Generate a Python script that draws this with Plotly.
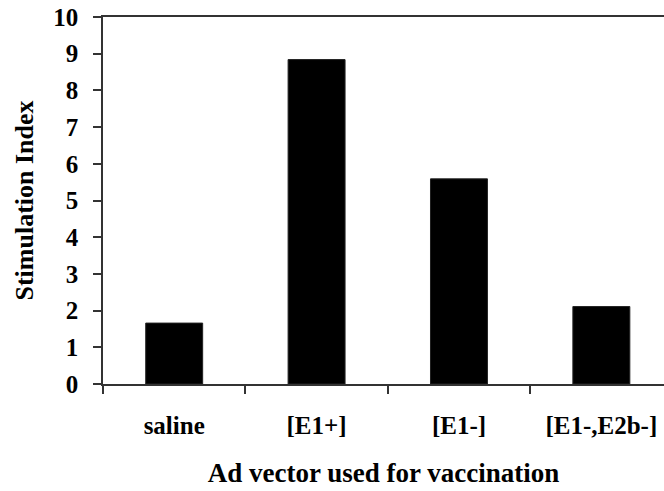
import plotly.graph_objects as go

categories = ["saline", "[E1+]", "[E1-]", "[E1-,E2b-]"]
stimulation_index = [1.66, 8.84, 5.59, 2.11]
y_ticks = list(range(0, 11))

FONT = "Liberation Serif"

fig = go.Figure()
fig.add_trace(go.Bar(
    x=categories,
    y=stimulation_index,
    marker=dict(color="black", line=dict(color="#222222", width=1)),
    width=0.4,
))

fig.update_layout(
    width=664, height=491,
    margin=dict(l=103, r=0, t=17, b=107),
    paper_bgcolor="white", plot_bgcolor="white",
    showlegend=False,
    font=dict(family=FONT, color="black"),
)

fig.update_xaxes(
    type="category",
    range=[-0.5, 3.44],
    showline=True, linecolor="#333333", linewidth=1.5, mirror=True,
    ticks="outside", tickson="boundaries", ticklen=8, tickwidth=1.5, tickcolor="#333333",
    tickfont=dict(family=FONT, size=25, color="black", weight="bold"),
    ticklabelstandoff=18,
    showgrid=False, zeroline=False,
    title=dict(text="<b>Ad vector used for vaccination</b>",
               font=dict(family=FONT, size=27, color="black"), standoff=25),
    automargin=False,
)

fig.update_yaxes(
    range=[0, 10],
    tickvals=y_ticks,
    showline=True, linecolor="#333333", linewidth=1.5,
    ticks="outside", ticklen=8, tickwidth=1.5, tickcolor="#333333",
    tickfont=dict(family=FONT, size=25, color="black", weight="bold"),
    ticklabelstandoff=10,
    showgrid=False, zeroline=False,
    title=dict(text="<b>Stimulation Index</b>",
               font=dict(family=FONT, size=26, color="black"), standoff=12),
    automargin=False,
)

fig.write_html("out.html", config={"displayModeBar": False},
               post_script="document.body.style.margin='0px';")
